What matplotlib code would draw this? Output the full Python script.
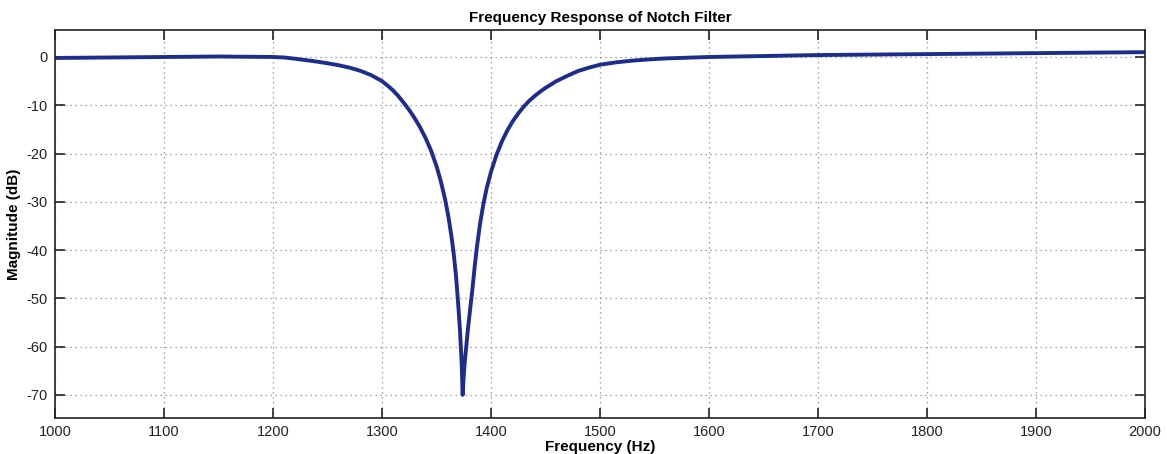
import matplotlib
matplotlib.use("Agg")
import matplotlib.pyplot as plt

freq_hz = [1000, 1050, 1100, 1150, 1200, 1210, 1220, 1230, 1240, 1250, 1260, 1270,
           1280, 1290, 1300, 1305, 1310, 1315, 1320, 1325, 1330, 1335, 1340, 1345,
           1350, 1354, 1358, 1361, 1364, 1366, 1368, 1370, 1371.5, 1373, 1374,
           1375, 1376, 1377.5, 1379, 1381, 1383, 1385, 1387, 1390, 1393, 1396,
           1400, 1405, 1410, 1415, 1420, 1425, 1430, 1435, 1440, 1445, 1450, 1460,
           1470, 1480, 1490, 1500, 1515, 1530, 1545, 1560, 1580, 1600, 1650, 1700,
           1800, 1900, 2000]
magnitude_db = [-0.2, -0.1, 0.0, 0.1, 0.0, -0.1, -0.35, -0.65, -0.95, -1.3, -1.7, -2.2,
                -2.85, -3.75, -5.0, -5.9, -6.9, -8.1, -9.5, -11.0, -12.7, -14.6, -16.8, -19.4,
                -22.6, -25.8, -29.6, -33.2, -37.6, -41.2, -45.6, -51.5, -56.5, -63.0, -70.0,
                -66.0, -63.0, -59.5, -56.0, -52.0, -48.0, -43.5, -39.5, -34.5, -30.5, -27.2,
                -23.8, -20.3, -17.5, -15.2, -13.3, -11.7, -10.3, -9.1, -8.1, -7.2, -6.4, -5.0,
                -3.9, -2.9, -2.2, -1.6, -1.1, -0.75, -0.5, -0.3, -0.15, 0.0, 0.2, 0.4,
                0.6, 0.8, 1.0]
x_ticks = [1000, 1100, 1200, 1300, 1400, 1500, 1600, 1700, 1800, 1900, 2000]
y_ticks = [0, -10, -20, -30, -40, -50, -60, -70]

plt.rcParams['font.family'] = ['Liberation Sans', 'DejaVu Sans']
plt.rcParams['axes.unicode_minus'] = False

fig = plt.figure(figsize=(11.67, 4.54), dpi=100)
ax = fig.add_axes([0.0471, 0.0793, 0.9341, 0.8547])
ax.plot(freq_hz, magnitude_db, color='#1c2d8c', linewidth=2.8,
        solid_joinstyle='round', solid_capstyle='round')
ax.set_xlim(1000, 2000)
ax.set_ylim(-74.8, 5.6)
ax.set_xticks(x_ticks)
ax.set_yticks(y_ticks)
ax.grid(True, linestyle=(0, (1, 3)), color='#888888', linewidth=0.9)
ax.tick_params(direction='in', length=7, width=1.2, top=True, right=True,
               labelsize=10.5, colors='#222222', pad=5)
for s in ax.spines.values():
    s.set_linewidth(1.2)
    s.set_color('#222222')
ax.set_xlabel('Frequency (Hz)', fontsize=11, fontweight='bold', labelpad=1)
ax.set_ylabel('Magnitude (dB)', fontsize=11, fontweight='bold', labelpad=4)
ax.set_title('Frequency Response of Notch Filter', fontsize=11, fontweight='bold', pad=6)
fig.savefig('out.png', dpi=100)
